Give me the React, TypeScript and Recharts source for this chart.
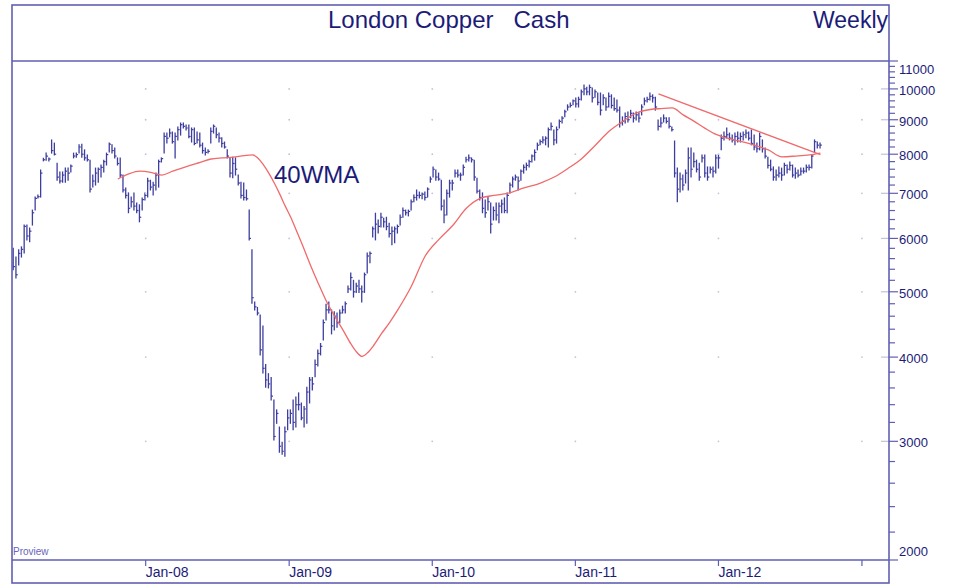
import React from 'react';
import { ComposedChart, Bar, Line, XAxis, YAxis, ReferenceDot, ReferenceLine } from 'recharts';

// ---- data (weekly bars, London Copper cash) ----
const START = Date.UTC(2007, 0, 29);
const WEEK = 7 * 86400000;
const X_MIN = Date.UTC(2007, 0, 25);
const X_MAX = Date.UTC(2013, 2, 11);

const highs = [
  5800, 5630, 5770, 5830, 6280, 6280, 6220, 6610, 6910, 6960, 7580, 7890, 8030, 7900, 8400, 8310, 7760, 7530, 7530, 7630,
  7630, 7710, 8030, 8030, 8260, 8280, 8120, 7980, 7840, 7450, 7630, 7630, 7710, 7840, 8030, 8310, 8260, 8170, 7900, 7900,
  7450, 7130, 7010, 6910, 7010, 6770, 6730, 6890, 7010, 7370, 7320, 7270, 7500, 7840, 7900, 8600, 8600, 8720, 8630, 8600,
  8780, 8900, 8900, 8840, 8840, 8750, 8750, 8630, 8600, 8310, 8170, 8120, 8750, 8840, 8750, 8600, 8460, 8340, 8120, 7900,
  7920, 7900, 7450, 7270, 7250, 7080, 6610, 5770, 4830, 4740, 4620, 4450, 3900, 3780, 3730, 3455, 3340, 3150, 2990, 3150,
  3340, 3340, 3455, 3490, 3540, 3420, 3380, 3610, 3730, 3730, 3960, 4100, 4190, 4540, 4790, 4830, 4700, 4670, 4650, 4700,
  4760, 4830, 5100, 5330, 5200, 5150, 5200, 5100, 5330, 5710, 5730, 6240, 6540, 6390, 6540, 6430, 6450, 6320, 6240, 6240,
  6280, 6500, 6660, 6610, 6610, 6840, 6960, 7080, 7030, 7010, 7030, 7130, 7400, 7660, 7580, 7500, 7320, 6840, 7080, 7320,
  7320, 7580, 7580, 7500, 7710, 7920, 7980, 7900, 7840, 7370, 7080, 7010, 6840, 6910, 6770, 6680, 6770, 6770, 6840, 6890,
  7010, 7250, 7400, 7450, 7400, 7580, 7710, 7760, 7840, 7980, 8120, 8310, 8400, 8490, 8490, 8750, 8900, 8690, 8780, 8990,
  9090, 9300, 9470, 9530, 9630, 9690, 9720, 9960, 10130, 10060, 10130, 10030, 9960, 9860, 9860, 9800, 9690, 9860, 9800, 9690,
  9630, 9400, 9090, 9210, 9240, 9300, 9210, 9240, 9210, 9470, 9690, 9720, 9860, 9800, 9720, 8990, 9060, 9150, 9060, 9060,
  8780, 8370, 7630, 7500, 7450, 7580, 8170, 8170, 8030, 7840, 7760, 7980, 7980, 7660, 7660, 7660, 7980, 7980, 8540, 8630,
  8750, 8600, 8540, 8600, 8630, 8600, 8630, 8690, 8630, 8690, 8540, 8310, 8600, 8400, 8170, 7920, 7840, 7660, 7580, 7660,
  7630, 7760, 7710, 7790, 7710, 7630, 7580, 7630, 7630, 7710, 7710, 7980, 8400, 8340, 8310,
];

const lows = [
  5390, 5240, 5480, 5630, 5710, 5970, 5930, 6280, 6610, 6890, 6910, 7820, 7840, 7820, 8030, 7980, 7320, 7250, 7270, 7270,
  7320, 7530, 7900, 7920, 8030, 7920, 7840, 7820, 7030, 7150, 7200, 7270, 7400, 7530, 7710, 8060, 8030, 7900, 7710, 7400,
  7030, 6890, 6550, 6680, 6610, 6550, 6350, 6610, 6840, 6910, 7080, 6960, 7080, 7150, 7790, 8030, 8310, 8490, 8310, 7900,
  8400, 8540, 8750, 8690, 8460, 8340, 8260, 8310, 8200, 8030, 7980, 8030, 8310, 8600, 8460, 8340, 8200, 8170, 7900, 7400,
  7380, 7450, 7200, 6890, 6840, 6840, 5970, 4810, 4700, 4620, 4030, 3790, 3610, 3600, 3455, 3014, 3190, 2890, 2870, 2850,
  3120, 3190, 3120, 3150, 3340, 3230, 3150, 3190, 3420, 3575, 3740, 3880, 4030, 4240, 4540, 4650, 4330, 4390, 4430, 4500,
  4650, 4650, 4990, 5030, 4910, 4990, 4990, 4830, 4990, 5330, 5520, 6030, 5970, 6110, 6240, 6240, 6180, 6030, 5870, 5910,
  6110, 6280, 6450, 6500, 6480, 6610, 6800, 6840, 6890, 6870, 6840, 6910, 7270, 7400, 7320, 7320, 6610, 6330, 6500, 6910,
  7080, 7400, 7400, 7320, 7450, 7790, 7820, 7790, 7320, 7010, 6840, 6550, 6450, 6610, 6110, 6390, 6390, 6330, 6550, 6550,
  6550, 7010, 7150, 7320, 7080, 7320, 7500, 7580, 7660, 7790, 7840, 8120, 8260, 8310, 8260, 8200, 8690, 8260, 8310, 8750,
  8900, 9090, 9300, 9400, 9470, 9400, 9400, 9630, 9800, 9800, 9800, 9560, 9720, 9470, 9150, 9470, 9300, 9400, 9370, 9300,
  9240, 8780, 8840, 8900, 8930, 9060, 8930, 8990, 8930, 9150, 9470, 9560, 9630, 9560, 9300, 8690, 8780, 8930, 8900, 8750,
  8660, 7400, 6800, 7030, 7080, 7250, 7080, 7400, 7660, 7530, 7320, 7790, 7400, 7320, 7500, 7400, 7500, 7630, 8120, 8400,
  8460, 8400, 8340, 8260, 8340, 8340, 8400, 8460, 8400, 8260, 8120, 8060, 8120, 8060, 7900, 7630, 7560, 7320, 7320, 7400,
  7320, 7450, 7500, 7580, 7400, 7370, 7400, 7450, 7500, 7530, 7580, 7630, 8060, 8170, 8170,
];

const closes = [
  5450, 5300, 5700, 5780, 6250, 6050, 6150, 6550, 6880, 6920, 7500, 7850, 7950, 7870, 8100, 8000, 7400, 7300, 7450, 7550,
  7500, 7680, 7950, 7990, 8200, 8000, 7900, 7850, 7100, 7300, 7500, 7600, 7650, 7800, 7990, 8280, 8100, 7950, 7750, 7450,
  7080, 6950, 6650, 6800, 6700, 6600, 6450, 6850, 6950, 7300, 7150, 7200, 7450, 7800, 7880, 8500, 8450, 8600, 8350, 8500,
  8700, 8850, 8800, 8750, 8500, 8700, 8300, 8400, 8250, 8100, 8050, 8080, 8650, 8800, 8550, 8450, 8300, 8200, 7950, 7500,
  7750, 7600, 7250, 6950, 6900, 6870, 6000, 4900, 4750, 4650, 4100, 3850, 3700, 3650, 3500, 3050, 3300, 2950, 2900, 3100,
  3250, 3300, 3200, 3400, 3400, 3250, 3350, 3550, 3700, 3650, 3900, 4050, 4150, 4500, 4700, 4700, 4450, 4600, 4500, 4650,
  4700, 4800, 5050, 5250, 5000, 5100, 5050, 5000, 5300, 5650, 5700, 6200, 6300, 6250, 6450, 6350, 6250, 6100, 6150, 6200,
  6250, 6450, 6600, 6550, 6580, 6800, 6900, 6950, 6950, 6980, 6900, 7100, 7350, 7600, 7400, 7350, 6700, 6500, 7000, 7250,
  7250, 7500, 7450, 7450, 7650, 7850, 7900, 7850, 7400, 7050, 6900, 6650, 6550, 6800, 6300, 6600, 6500, 6700, 6750, 6600,
  6950, 7200, 7350, 7400, 7300, 7550, 7650, 7700, 7800, 7950, 8050, 8250, 8350, 8400, 8450, 8700, 8800, 8400, 8700, 8950,
  9050, 9250, 9400, 9450, 9600, 9500, 9650, 9900, 10000, 9900, 10050, 9700, 9900, 9550, 9300, 9700, 9400, 9750, 9450, 9350,
  9300, 8900, 8950, 9100, 9000, 9200, 9050, 9150, 9050, 9400, 9600, 9650, 9750, 9700, 9400, 8800, 8900, 9050, 8950, 8800,
  8700, 7500, 7100, 7350, 7200, 7500, 7900, 7600, 7800, 7600, 7400, 7900, 7500, 7400, 7600, 7550, 7900, 7900, 8450, 8500,
  8550, 8450, 8400, 8500, 8450, 8500, 8550, 8600, 8450, 8300, 8200, 8150, 8500, 8150, 7950, 7700, 7600, 7400, 7450, 7500,
  7450, 7700, 7600, 7700, 7450, 7500, 7450, 7550, 7550, 7650, 7650, 7950, 8350, 8250, 8250,
];

// 40-week moving average (week index -> value)
const maWeeks = [38, 42, 46, 50, 54, 58, 63, 68, 72, 76, 80, 84, 87, 89, 91, 93, 95, 97, 99, 101, 103, 105, 108, 111, 114,
  117, 120, 123, 125, 127, 129, 131, 134, 137, 140, 145, 150, 155, 160, 165, 170, 175, 180, 186, 192, 197, 202, 207, 212,
  217, 222, 227, 232, 236, 240, 244, 248, 252, 256, 260, 265, 270, 275, 280, 285, 290, 294];
const maValues = [7350, 7480, 7550, 7520, 7450, 7550, 7670, 7780, 7870, 7900, 7920, 7960, 7980, 7900, 7720, 7500, 7250, 6980,
  6700, 6450, 6170, 5900, 5500, 5150, 4840, 4600, 4390, 4180, 4070, 4010, 4060, 4150, 4330, 4500, 4700, 5100, 5650, 5980,
  6270, 6650, 6880, 6950, 7000, 7130, 7250, 7400, 7620, 7880, 8250, 8650, 8950, 9210, 9320, 9350, 9370, 9150, 8950, 8740,
  8560, 8450, 8360, 8250, 8120, 7930, 7950, 7980, 8030];

// down trend line
const trendWeeks = [235, 294];
const trendValues = [9830, 7990];

// axes
const yearTicks = [Date.UTC(2008, 0, 1), Date.UTC(2009, 0, 1), Date.UTC(2010, 0, 1), Date.UTC(2011, 0, 1), Date.UTC(2012, 0, 1), Date.UTC(2013, 0, 1)];
const yearLabels = ['Jan-08', 'Jan-09', 'Jan-10', 'Jan-11', 'Jan-12', ''];
const priceTicks = [2000, 2200, 2400, 2600, 2800, 3000, 3200, 3400, 3600, 3800, 4000, 4200, 4400, 4600, 4800, 5000, 5200,
  5400, 5600, 5800, 6000, 6200, 6400, 6600, 6800, 7000, 7200, 7400, 7600, 7800, 8000, 8200, 8400, 8600, 8800, 9000, 9200,
  9400, 9600, 9800, 10000, 10200, 10400, 10600, 10800, 11000];
const gridLevels = [3000, 4000, 5000, 6000, 7000, 8000, 9000, 10000];

// ---- styling ----
const NAVY = '#1c1c78';
const FRAME = '#5f5fb2';
const BARC = '#3e3ea0';
const RED = '#f06a6a';
const GRID = '#c2c2d8';
const FONT = '"Liberation Sans", Arial, Helvetica, sans-serif';

const rows = highs.map((h, i) => ({
  t: START + i * WEEK,
  hl: [lows[i], h],
  high: h,
  low: lows[i],
  close: closes[i],
  ma: null as number | null,
  trend: null as number | null,
}));
maWeeks.forEach((w, k) => { rows[w].ma = maValues[k]; });
trendWeeks.forEach((w, k) => { rows[w].trend = trendValues[k]; });

const HLBar = (props: any) => {
  const { x, y, width, height, payload } = props;
  if (x == null || y == null || !payload) return null;
  const cx = x + width / 2;
  const top = Math.min(y, y + height);
  const bot = Math.max(y, y + height);
  const { high, low, close } = payload;
  const span = Math.log(high) - Math.log(low);
  const f = span > 0 ? (Math.log(high) - Math.log(close)) / span : 0.5;
  const yc = top + (bot - top) * f;
  return (
    <g>
      <line x1={cx} x2={cx} y1={top - 0.5} y2={bot + 0.5} stroke={BARC} strokeWidth={1.3} />
      <line x1={cx} x2={cx + 1.8} y1={yc} y2={yc} stroke={BARC} strokeWidth={1.2} />
    </g>
  );
};

const YTick = (props: any) => {
  const { x, y, payload } = props;
  const v = payload.value;
  const major = v % 1000 === 0;
  let ty = y + 6;
  if (v === 11000) ty = y + 13;
  if (v === 2000) ty = y - 4;
  return (
    <g>
      <line x1={x} x2={x + (major ? 9 : 6)} y1={y} y2={y} stroke={FRAME} strokeWidth={1.2} />
      {major && (
        <text x={x + 10} y={ty} fill={NAVY} fontSize={13} fontFamily={FONT} textAnchor="start">
          {v}
        </text>
      )}
    </g>
  );
};

const XTick = (props: any) => {
  const { x, y, index } = props;
  const label = yearLabels[index] || '';
  return (
    <g>
      <line x1={x} x2={x} y1={y} y2={y + 6} stroke={FRAME} strokeWidth={1.2} />
      {label && (
        <text x={x} y={y + 17} fill={NAVY} fontSize={14} fontFamily={FONT} textAnchor="start">
          {label}
        </text>
      )}
    </g>
  );
};

export default function App() {
  return (
    <div style={{ position: 'absolute', left: 0, top: 0, width: 956, height: 587, background: '#fff' }}>
      <ComposedChart
        width={956}
        height={587}
        data={rows}
        margin={{ top: 61, right: 0, bottom: 4, left: 12 }}
      >
        <XAxis
          dataKey="t"
          type="number"
          domain={[X_MIN, X_MAX]}
          allowDataOverflow
          ticks={yearTicks}
          interval={0}
          axisLine={false}
          tickLine={false}
          tickSize={0}
          tickMargin={0}
          height={23}
          tick={<XTick />}
        />
        <YAxis
          orientation="right"
          type="number"
          scale="log"
          domain={[2000, 11000]}
          allowDataOverflow
          ticks={priceTicks}
          interval={0}
          axisLine={false}
          tickLine={false}
          tickSize={0}
          tickMargin={0}
          width={67}
          tick={<YTick />}
        />
        {gridLevels.map((lv) => (
          <ReferenceLine key={'g' + lv} y={lv} stroke={GRID} strokeWidth={1.2} strokeDasharray="8 3000" />
        ))}
        {yearTicks.map((t) =>
          gridLevels.map((lv) => (
            <ReferenceDot key={t + '-' + lv} x={t} y={lv} r={0.9} fill={GRID} stroke="none" />
          ))
        )}
        <Bar dataKey="hl" barSize={2} shape={<HLBar />} isAnimationActive={false} />
        <Line
          dataKey="ma"
          type="monotone"
          stroke={RED}
          strokeWidth={1.3}
          dot={false}
          connectNulls
          isAnimationActive={false}
        />
        <Line
          dataKey="trend"
          type="linear"
          stroke={RED}
          strokeWidth={1.3}
          dot={false}
          connectNulls
          isAnimationActive={false}
        />
      </ComposedChart>
      <svg
        width={956}
        height={587}
        style={{ position: 'absolute', left: 0, top: 0, pointerEvents: 'none' }}
      >
        <rect x={12} y={5} width={877} height={578} fill="none" stroke={FRAME} strokeWidth={1.6} />
        <line x1={12} x2={889} y1={61} y2={61} stroke={FRAME} strokeWidth={1.5} />
        <line x1={12} x2={889} y1={560} y2={560} stroke={FRAME} strokeWidth={1.5} />
        <text x={328} y={28} fill={NAVY} fontSize={24} fontFamily={FONT} style={{ whiteSpace: 'pre' }}>
          {'London Copper   Cash'}
        </text>
        <text x={888} y={28} fill={NAVY} fontSize={23} fontFamily={FONT} textAnchor="end">
          Weekly
        </text>
        <text x={274} y={183} fill={NAVY} fontSize={24} fontFamily={FONT}>
          40WMA
        </text>
        <text x={13} y={555} fill="#6666bb" fontSize={10} fontFamily={FONT}>
          Proview
        </text>
      </svg>
    </div>
  );
}
